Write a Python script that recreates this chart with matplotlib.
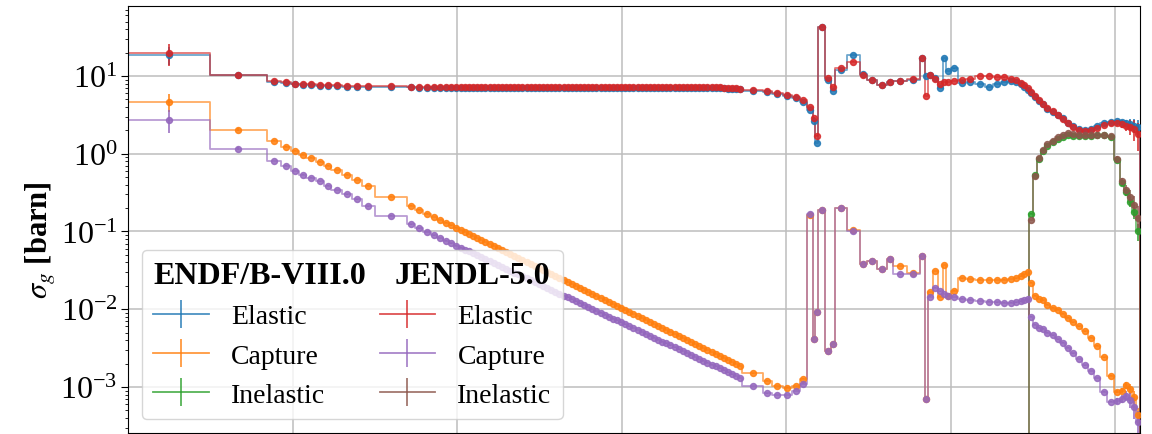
import numpy as np
import matplotlib
matplotlib.use("Agg")
import matplotlib.pyplot as plt
from matplotlib.lines import Line2D

plt.rcParams['font.family'] = ['Liberation Serif', 'DejaVu Serif']
plt.rcParams['mathtext.fontset'] = 'stix'

# ---------------- data (energy group edges in log10(E/eV)) ----------------
log_edges = [
    -5.0, -4.0,
    -3.316, -3.146, -3.024, -2.927, -2.830, -2.720, -2.623, -2.526, -2.404, -2.282, -2.161, -2.002,
    -1.613, -1.51, -1.41, -1.32, -1.24, -1.17, -1.10, -1.04,
    -0.98, -0.93, -0.88, -0.83, -0.78, -0.73, -0.68, -0.63, -0.58, -0.53,
    -0.48, -0.43, -0.38, -0.33, -0.28, -0.23, -0.18, -0.13, -0.08, -0.03,
    0.02, 0.07, 0.12, 0.17, 0.22, 0.27, 0.32, 0.37, 0.42, 0.47,
    0.52, 0.57, 0.62, 0.67, 0.72, 0.77, 0.82, 0.87, 0.92, 0.97,
    1.02, 1.07, 1.12, 1.17, 1.22, 1.27, 1.32, 1.37, 1.42, 1.47,
    1.52, 1.57, 1.62, 1.67, 1.72, 1.77, 1.82, 1.87, 1.92, 1.97,
    2.02, 2.07, 2.12, 2.17, 2.22, 2.27, 2.32, 2.37, 2.42, 2.47,
    2.718, 2.827, 2.961, 3.071, 3.168, 3.253, 3.326, 3.357, 3.391, 3.472,
    3.545, 3.594, 3.740, 3.898, 3.983, 4.105, 4.226, 4.299, 4.470, 4.628,
    4.689, 4.725, 4.786, 4.847, 4.908, 4.944, 5.005, 5.090, 5.187, 5.297,
    5.418, 5.516, 5.613, 5.698, 5.771, 5.832, 5.881, 5.917, 5.954,
    6.002, 6.051, 6.100, 6.148, 6.209, 6.270, 6.331, 6.392, 6.453, 6.526,
    6.599, 6.672, 6.745, 6.818, 6.903, 6.988, 7.061, 7.109, 7.158, 7.207,
    7.250, 7.301,
]

elastic_endf = [
    18.5, 10.2,
    8.4, 8.1, 7.8, 7.7, 7.6, 7.5, 7.4, 7.35, 7.3, 7.25, 7.2, 7.15,
    7.12, 7.1, 7.09, 7.08, 7.07, 7.06, 7.06, 7.05,
    7.05, 7.05, 7.04, 7.04, 7.04, 7.03, 7.03, 7.03, 7.03, 7.02,
    7.02, 7.02, 7.02, 7.02, 7.01, 7.01, 7.01, 7.01, 7.01, 7.0,
    7.0, 7.0, 7.0, 7.0, 7.0, 7.0, 7.0, 7.0, 7.0, 7.0,
    7.0, 7.0, 7.0, 7.0, 7.0, 7.0, 7.0, 7.0, 7.0, 7.0,
    7.0, 7.0, 7.0, 7.0, 7.0, 7.0, 7.0, 7.0, 7.0, 7.0,
    7.0, 7.0, 7.0, 7.0, 7.0, 7.0, 7.0, 7.0, 7.0, 7.0,
    7.0, 6.98, 6.95, 6.92, 6.9, 6.85, 6.8, 6.75, 6.7,
    6.5, 6.3, 5.8, 5.5, 5.2, 4.6, 3.6, 2.6, 1.38, 43.0,
    9.0, 6.4, 12.0, 18.6, 10.6, 8.9, 7.6, 8.3, 8.5, 9.0,
    17.0, 10.0, 10.3, 9.3, 7.0, 17.0, 11.6, 12.6, 8.1, 8.4,
    7.9, 7.2, 7.9, 8.4, 8.6, 8.3, 7.8, 7.2, 6.6,
    6.0, 5.3, 4.7, 4.3, 3.8, 3.45, 3.15, 2.85, 2.5, 2.25,
    2.05, 2.0, 2.05, 2.25, 2.45, 2.55, 2.6, 2.55, 2.5, 2.4,
    2.3, 2.2,
]

elastic_jendl = [
    19.5, 10.3,
    8.7, 8.3, 8.0, 7.9, 7.8, 7.7, 7.6, 7.55, 7.5, 7.45, 7.4, 7.35,
    7.32, 7.3, 7.29, 7.28, 7.27, 7.26, 7.26, 7.25,
    7.25, 7.25, 7.24, 7.24, 7.24, 7.23, 7.23, 7.23, 7.23, 7.22,
    7.22, 7.22, 7.22, 7.22, 7.21, 7.21, 7.21, 7.21, 7.21, 7.2,
    7.2, 7.2, 7.2, 7.2, 7.2, 7.2, 7.2, 7.2, 7.2, 7.2,
    7.2, 7.2, 7.2, 7.2, 7.2, 7.2, 7.2, 7.2, 7.2, 7.2,
    7.2, 7.2, 7.2, 7.2, 7.2, 7.2, 7.2, 7.2, 7.2, 7.2,
    7.2, 7.2, 7.2, 7.2, 7.2, 7.2, 7.2, 7.2, 7.2, 7.2,
    7.2, 7.18, 7.15, 7.12, 7.1, 7.05, 7.0, 6.95, 6.85,
    6.6, 6.4, 6.0, 5.7, 5.4, 4.9, 4.0, 2.9, 1.7, 43.0,
    9.4, 7.2, 12.5, 15.3, 10.3, 8.9, 7.7, 8.4, 8.6, 9.1,
    17.0, 5.5, 10.3, 9.1, 7.9, 8.4, 8.4, 8.6, 8.9, 9.1,
    10.0, 10.0, 9.7, 9.6, 9.1, 8.8, 8.2, 7.6, 7.0,
    6.3, 5.5, 4.9, 4.4, 3.9, 3.5, 3.15, 2.8, 2.45, 2.2,
    2.0, 1.95, 2.0, 2.15, 2.35, 2.45, 2.5, 2.4, 2.3, 2.2,
    2.1, 1.8,
]

capture_endf = [
    4.6, 2.04,
    1.47, 1.23, 1.09, 0.97, 0.89, 0.79, 0.70, 0.62, 0.54, 0.46, 0.39, 0.28,
    0.215, 0.191, 0.170, 0.154, 0.141, 0.130, 0.120, 0.112,
    0.1047, 0.0987, 0.0930, 0.0876, 0.0826, 0.0778, 0.0733, 0.0691, 0.0652, 0.0614,
    0.0579, 0.0545, 0.0514, 0.0484, 0.0456, 0.0430, 0.0406, 0.0382, 0.0360, 0.0339,
    0.0320, 0.0301, 0.0284, 0.0268, 0.0252, 0.0238, 0.0224, 0.0211, 0.0199, 0.0188,
    0.0177, 0.0167, 0.0157, 0.0148, 0.0139, 0.0131, 0.0124, 0.0117, 0.0110, 0.0104,
    0.00977, 0.00921, 0.00868, 0.00818, 0.00771, 0.00726, 0.00685, 0.00645, 0.00608, 0.00573,
    0.00540, 0.00509, 0.00480, 0.00452, 0.00426, 0.00402, 0.00378, 0.00357, 0.00336, 0.00317,
    0.00299, 0.00281, 0.00265, 0.00250, 0.00236, 0.00222, 0.00209, 0.00197, 0.00186,
    0.0015, 0.0012, 0.00103, 0.00098, 0.00103, 0.00128, 0.165, 0.0042, 0.0093, 0.19,
    0.0029, 0.0036, 0.20, 0.105, 0.038, 0.042, 0.033, 0.044, 0.036, 0.029,
    0.049, 0.0007, 0.0167, 0.031, 0.0145, 0.037, 0.015, 0.0174, 0.025, 0.0245,
    0.024, 0.0238, 0.0238, 0.024, 0.0245, 0.025, 0.0265, 0.028, 0.030,
    0.022, 0.015, 0.0135, 0.013, 0.0115, 0.0105, 0.0099, 0.0088, 0.0078, 0.0068,
    0.0060, 0.0052, 0.0043, 0.0034, 0.0024, 0.0014, 0.00087, 0.00090, 0.00105, 0.00095,
    0.00075, 0.00043,
]

capture_jendl = [
    2.75, 1.16,
    0.81, 0.70, 0.60, 0.54, 0.49, 0.44, 0.39, 0.34, 0.30, 0.26, 0.21, 0.16,
    0.123, 0.110, 0.0986, 0.0896, 0.0822, 0.0760, 0.0706, 0.0659,
    0.0619, 0.0585, 0.0553, 0.0522, 0.0494, 0.0466, 0.0441, 0.0416, 0.0393, 0.0372,
    0.0351, 0.0332, 0.0313, 0.0296, 0.0280, 0.0264, 0.0250, 0.0236, 0.0223, 0.0211,
    0.0199, 0.0188, 0.0178, 0.0168, 0.0159, 0.0150, 0.0142, 0.0134, 0.0126, 0.0119,
    0.0113, 0.0107, 0.0101, 0.00952, 0.00899, 0.00850, 0.00803, 0.00759, 0.00717, 0.00677,
    0.00640, 0.00604, 0.00571, 0.00540, 0.00510, 0.00482, 0.00455, 0.00430, 0.00406, 0.00384,
    0.00363, 0.00343, 0.00324, 0.00306, 0.00289, 0.00273, 0.00258, 0.00244, 0.00230, 0.00218,
    0.00206, 0.00194, 0.00184, 0.00173, 0.00164, 0.00155, 0.00146, 0.00138, 0.00131,
    0.00103, 0.00083, 0.00079, 0.00079, 0.00089, 0.0011, 0.17, 0.0042, 0.0093, 0.19,
    0.0029, 0.0036, 0.20, 0.100, 0.038, 0.042, 0.033, 0.044, 0.028, 0.028,
    0.049, 0.0007, 0.0145, 0.019, 0.017, 0.0157, 0.015, 0.0144, 0.0137, 0.0133,
    0.0128, 0.0125, 0.0123, 0.0122, 0.0122, 0.0123, 0.0126, 0.013, 0.0137,
    0.0080, 0.0063, 0.0058, 0.0056, 0.0050, 0.0046, 0.0041, 0.0037, 0.0032, 0.0027,
    0.0023, 0.0019, 0.0016, 0.0013, 0.00087, 0.00065, 0.00066, 0.00070, 0.00077, 0.00068,
    0.00055, 0.00035,
]

# inelastic is non-zero only above the threshold group (index 130 onward)
inelastic_start = 130
inelastic_endf = [0.17, 0.54, 0.85, 1.08, 1.27, 1.40, 1.55, 1.66, 1.72, 1.70, 1.68,
                  1.68, 1.70, 1.72, 1.72, 1.65, 0.84, 0.42, 0.32, 0.24, 0.18, 0.10]
inelastic_jendl = [0.14, 0.52, 0.88, 1.12, 1.32, 1.47, 1.62, 1.74, 1.84, 1.80, 1.76,
                   1.74, 1.74, 1.75, 1.76, 1.68, 0.86, 0.44, 0.34, 0.28, 0.22, 0.15]

# relative uncertainties: first two groups, bulk, last 6 groups
relerr_head_endf = [0.26, 0.04]
relerr_head_jendl = [0.32, 0.05]
relerr_bulk = 0.01
relerr_tail_endf = [0.05, 0.08, 0.10, 0.15, 0.20, 0.25]
relerr_tail_jendl = [0.08, 0.12, 0.15, 0.22, 0.30, 0.40]

libraries = ['ENDF/B-VIII.0', 'JENDL-5.0']
reactions = ['Elastic', 'Capture', 'Inelastic']
colors_endf = ['tab:blue', 'tab:orange', 'tab:green']
colors_jendl = ['tab:red', 'tab:purple', 'tab:brown']

# ---------------- derived ----------------
edges = 10.0 ** np.array(log_edges)
centers = np.sqrt(edges[:-1] * edges[1:])
ng = len(centers)
for arr in (elastic_endf, elastic_jendl, capture_endf, capture_jendl):
    assert len(arr) == ng, len(arr)


def rel_err(head, tail):
    r = np.full(ng, relerr_bulk)
    r[:len(head)] = head
    r[-len(tail):] = tail
    return r


rel_endf = rel_err(relerr_head_endf, relerr_tail_endf)
rel_jendl = rel_err(relerr_head_jendl, relerr_tail_jendl)

fig = plt.figure(figsize=(11.52, 4.35), dpi=100)
ax = fig.add_axes([128 / 1152, 1 / 435, 1012 / 1152, 427 / 435])
ax.set_xscale('log')
ax.set_yscale('log')


def draw(vals, rel, color, start=0):
    v = np.asarray(vals, dtype=float)
    e = edges[start:]
    c = centers[start:]
    xs = np.r_[e[0], e]
    ys = np.r_[0.0, v, 0.0]
    ax.step(xs, ys, where='post', color=color, lw=1.3, alpha=0.65, zorder=2)
    ax.errorbar(c, v, yerr=v * rel[start:], fmt='o', ms=4.3, color=color,
                ecolor=color, elinewidth=1.3, alpha=0.85, zorder=3)


draw(elastic_endf, rel_endf, colors_endf[0])
draw(capture_endf, rel_endf, colors_endf[1])
draw(inelastic_endf, rel_endf, colors_endf[2], start=inelastic_start)
draw(elastic_jendl, rel_jendl, colors_jendl[0])
draw(capture_jendl, rel_jendl, colors_jendl[1])
draw(inelastic_jendl, rel_jendl, colors_jendl[2], start=inelastic_start)

ax.set_xlim(1e-5, 2.01e7)
ax.set_ylim(2.56e-4, 79.4)
ax.set_xticks([1e-3, 1e-1, 1e1, 1e3, 1e5, 1e7])
ax.xaxis.set_minor_locator(matplotlib.ticker.NullLocator())
ax.tick_params(axis='x', labelbottom=False)
ax.tick_params(axis='y', which='major', labelsize=23, length=5, pad=2.5)
ax.grid(True, which='major', color='#bdbdbd', lw=1.1)
ax.set_axisbelow(True)
ax.set_ylabel(r'$\sigma_g$ [barn]', fontsize=22, fontweight='bold')
ax.yaxis.set_label_coords(-0.069, 0.455)

# legend with two column headers
handles, labels = [], []
for lib, cols in zip(libraries, [colors_endf, colors_jendl]):
    handles.append(Line2D([], [], alpha=0))
    labels.append(lib)
    for rx, col in zip(reactions, cols):
        h = ax.errorbar([np.nan], [np.nan], yerr=[1.0], fmt='-', color=col,
                        ecolor=col, lw=1.3, elinewidth=1.3, alpha=0.8)
        handles.append(h)
        labels.append(rx)

leg = ax.legend(handles, labels, ncol=2, loc='lower left', fontsize=20,
                handletextpad=0.8, columnspacing=0.5, labelspacing=0.5)
texts = leg.get_texts()
for i in (0, 4):
    texts[i].set_fontweight('bold')
    texts[i].set_fontsize(23)
header_offsets = [0.0, 10.8]  # points
for vpack, off in zip(leg._legend_handle_box.get_children(), header_offsets):
    hpack = vpack.get_children()[0]
    hpack.get_children()[0].set_width(off)
    hpack.sep = 0

fig.savefig('out.png', dpi=100)
